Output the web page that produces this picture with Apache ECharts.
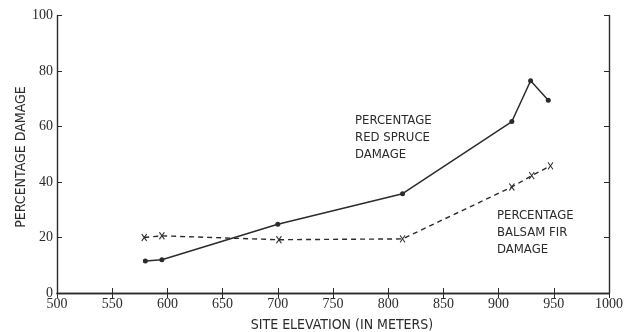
<!DOCTYPE html>
<html>
<head>
<meta charset="utf-8">
<script src="https://cdn.jsdelivr.net/npm/echarts@6/dist/echarts.min.js"></script>
<style>
html,body{margin:0;padding:0;background:#fff;}
#chart{width:626px;height:332px;}
</style>
</head>
<body>
<div id="chart"></div>
<script>
var spruceElev = [580, 595, 700, 813, 912, 929, 945];
var spruceDamage = [11.5, 12, 24.8, 35.8, 61.8, 76.5, 69.5];
var firElev = [579, 595, 701, 813, 912, 930, 947];
var firDamage = [20, 20.6, 19.2, 19.5, 38.2, 42.3, 45.8];
var xTicks = [500, 550, 600, 650, 700, 750, 800, 850, 900, 950, 1000];
var yTicks = [0, 20, 40, 60, 80, 100];
var spruceLabel = ['PERCENTAGE', 'RED SPRUCE', 'DAMAGE'];
var firLabel = ['PERCENTAGE', 'BALSAM FIR', 'DAMAGE'];
var xTitle = 'SITE ELEVATION (IN METERS)';
var yTitle = 'PERCENTAGE DAMAGE';

function pairs(xs, ys){ return xs.map(function(x,i){ return [x, ys[i]]; }); }

var ink = '#2b2b2b';
var narrow = '"Liberation Sans Narrow","DejaVu Sans Condensed",sans-serif';
var chart = echarts.init(document.getElementById('chart'), null, {renderer:'canvas'});
var axisLine = {show:true, lineStyle:{color:ink, width:1.4}};
var tickStyle = {show:true, inside:true, length:5, lineStyle:{color:ink, width:1}};
chart.setOption({
  animation:false,
  grid:{left:57, right:14, top:15.5, bottom:39},
  xAxis:[{
    type:'value', min:xTicks[0], max:xTicks[xTicks.length-1], interval:50,
    axisLine:axisLine, axisTick:tickStyle, splitLine:{show:false},
    axisLabel:{color:ink, fontFamily:'"Liberation Serif",serif', fontSize:14, margin:4,
      formatter:function(v){ return String(v); }}
  },{
    type:'value', position:'top', min:xTicks[0], max:xTicks[xTicks.length-1], interval:50,
    axisLine:axisLine, axisTick:tickStyle, splitLine:{show:false}, axisLabel:{show:false}
  }],
  yAxis:[{
    type:'value', min:yTicks[0], max:yTicks[yTicks.length-1], interval:20,
    axisLine:axisLine, axisTick:tickStyle, splitLine:{show:false},
    axisLabel:{color:ink, fontFamily:'"Liberation Serif",serif', fontSize:14, margin:4}
  },{
    type:'value', position:'right', min:0, max:100, interval:20,
    axisLine:axisLine, axisTick:tickStyle, splitLine:{show:false}, axisLabel:{show:false}
  }],
  series:[{
    type:'line', name:'Red spruce', data:pairs(spruceElev, spruceDamage),
    symbol:'circle', symbolSize:5,
    lineStyle:{color:ink, width:1.5}, itemStyle:{color:ink}
  },{
    type:'line', name:'Balsam fir', data:pairs(firElev, firDamage),
    symbol:'path://M0 0L10 12M10 0L0 12', symbolSize:[5,7],
    lineStyle:{color:ink, width:1.4, type:[5,4]},
    itemStyle:{color:'rgba(0,0,0,0)', borderColor:ink, borderWidth:1.1}
  }],
  graphic:[
    {type:'text', left:355, top:112, style:{text:spruceLabel.join('\n'), font:'13px '+narrow, fill:ink, lineHeight:17}},
    {type:'text', left:497, top:207, style:{text:firLabel.join('\n'), font:'13px '+narrow, fill:ink, lineHeight:17}},
    {type:'text', x:342, y:325, style:{text:xTitle, font:'14px '+narrow, fill:ink, align:'center', verticalAlign:'middle'}},
    {type:'text', x:21, y:157, rotation:Math.PI/2, style:{text:yTitle, font:'14px '+narrow, fill:ink, align:'center', verticalAlign:'middle'}}
  ]
});
</script>
</body>
</html>
